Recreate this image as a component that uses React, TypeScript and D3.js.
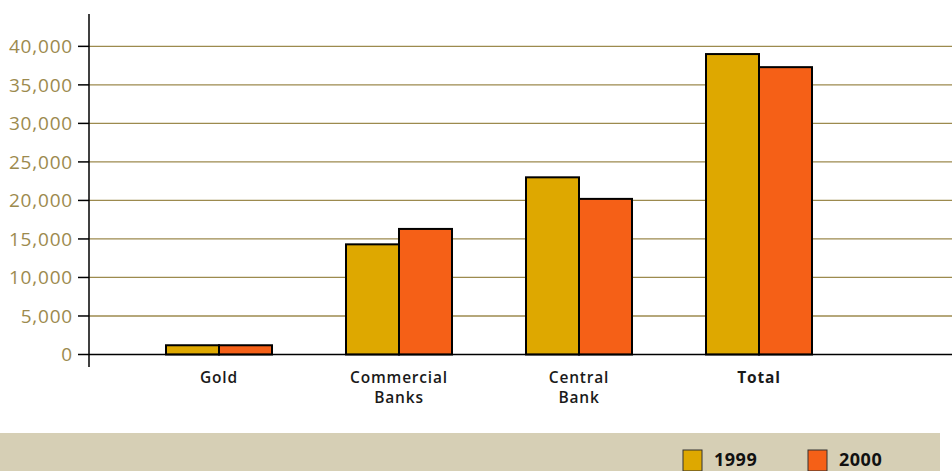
import React from "react";
import * as d3 from "d3";

const categories = ["Gold", "Commercial Banks", "Central Bank", "Total"];
const categoryLines = [["Gold"], ["Commercial", "Banks"], ["Central", "Bank"], ["Total"]];
const series = ["1999", "2000"];
const values1999 = [1200, 14300, 23000, 39000];
const values2000 = [1200, 16300, 20200, 37300];
const yTicks = [0, 5000, 10000, 15000, 20000, 25000, 30000, 35000, 40000];
const colors = ["#DEA800", "#F56017"];

export default function App() {
  const W = 952, H = 471;
  const y = d3.scaleLinear().domain([0, 44200]).range([354.5, 14]);
  const x0 = d3.scaleBand<string>().domain(categories).range([129, 849]).paddingInner(74 / 180).paddingOuter(37 / 180);
  const x1 = d3.scaleBand<string>().domain(series).range([0, x0.bandwidth()]).padding(0);
  const fmt = d3.format(",");
  const data = [values1999, values2000];
  const font = "'Open Sans', 'DejaVu Sans', sans-serif";
  return (
    <svg width={W} height={H} style={{ position: "absolute", left: 0, top: 0, display: "block" }} fontFamily={font}>
      <rect x={0} y={0} width={W} height={H} fill="#fff" />
      {yTicks.map((t) => (
        <g key={t}>
          {t > 0 && <line x1={89} x2={W} y1={y(t)} y2={y(t)} stroke="#9C8A4E" strokeWidth={1.3} />}
          <line x1={78} x2={89} y1={y(t)} y2={y(t)} stroke="#000" strokeWidth={1.5} />
          <text x={73} y={y(t)} dy="0.36em" textAnchor="end" fontSize={19} letterSpacing={0.8} fontWeight={500} fill="#9C8A4E">{fmt(t)}</text>
        </g>
      ))}
      {categories.map((c, i) => {
        const cx = (x0(c) as number) + x0.bandwidth() / 2;
        return (
          <g key={c}>
            {series.map((s, j) => (
              <rect key={s} x={(x0(c) as number) + (x1(s) as number)} y={y(data[j][i])} width={x1.bandwidth()} height={y(0) - y(data[j][i])} fill={colors[j]} stroke="#000" strokeWidth={2} />
            ))}
            <text x={cx} y={382.5} textAnchor="middle" fontSize={15.5} letterSpacing={0.8} fontWeight={c === "Total" ? 700 : 600} fill="#1a1a1a">
              {categoryLines[i].map((ln, k) => (
                <tspan key={k} x={cx} dy={k === 0 ? 0 : 20}>{ln}</tspan>
              ))}
            </text>
          </g>
        );
      })}
      <line x1={89} x2={W} y1={y(0)} y2={y(0)} stroke="#000" strokeWidth={1.5} />
      <line x1={89} x2={89} y1={14} y2={367} stroke="#000" strokeWidth={1.5} />
      <rect x={0} y={433} width={940} height={38} fill="#D6CFB5" />
      {series.map((s, j) => (
        <g key={s}>
          <rect x={683 + j * 125} y={450} width={19} height={21} fill={colors[j]} stroke="#333" strokeWidth={1} />
          <text x={714 + j * 125} y={466} fontSize={18} letterSpacing={0.5} fontWeight={700} fill="#111">{s}</text>
        </g>
      ))}
    </svg>
  );
}
